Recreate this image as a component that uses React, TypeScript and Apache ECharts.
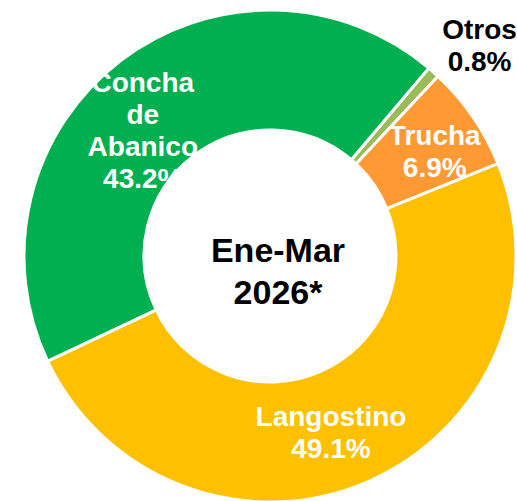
import React, { useEffect, useRef } from "react";
import * as echarts from "echarts";

const categories = ["Otros", "Trucha", "Langostino", "Concha de Abanico"];
const shares = [0.8, 6.9, 49.1, 43.2];
const colors = ["#9BBB59", "#FF9933", "#FFC000", "#00B050"];
const labelColors = ["#000000", "#FFFFFF", "#FFFFFF", "#FFFFFF"];
const centerLines = ["Ene-Mar", "2026*"];

// label nudges (layout only), indexed like categories
const labelNudge: [number, number][] = [
  [84, -69],
  [9, 3],
  [-15, 3],
  [-12, 24],
];

const FONT = '"Liberation Sans", Arial, Helvetica, sans-serif';

export default function App() {
  const ref = useRef<HTMLDivElement>(null);
  useEffect(() => {
    document.body.style.margin = "0";
    if (!ref.current) return;
    const chart = echarts.init(ref.current, undefined, { renderer: "svg" });
    chart.setOption({
      animation: false,
      backgroundColor: "#FFFFFF",
      series: [
        {
          type: "pie",
          center: [270, 256],
          radius: [126, 246],
          startAngle: 49.8,
          clockwise: true,
          avoidLabelOverlap: false,
          itemStyle: { borderColor: "#FFFFFF", borderWidth: 3 },
          label: {
            show: true,
            position: "inside",
            fontFamily: FONT,
            fontWeight: "bold",
            fontSize: 28,
            lineHeight: 32,
            align: "center",
            formatter: (p: any) =>
              String(p.name).split(" ").join("\n") + "\n" + Number(p.value).toFixed(1) + "%",
          },
          labelLine: { show: false },
          labelLayout: (p: any) => ({
            dx: labelNudge[p.dataIndex][0],
            dy: labelNudge[p.dataIndex][1],
          }),
          emphasis: { disabled: true },
          data: categories.map((c, i) => ({
            name: c,
            value: shares[i],
            itemStyle: { color: colors[i] },
            label: { color: labelColors[i] },
          })),
        },
      ],
      graphic: [
        {
          type: "text",
          x: 278,
          y: 271,
          style: {
            text: centerLines.join("\n"),
            fontFamily: FONT,
            fontWeight: "bold",
            fontSize: 34,
            lineHeight: 42,
            fill: "#000000",
            align: "center",
            verticalAlign: "middle",
          },
        },
      ],
    });
    return () => chart.dispose();
  }, []);
  return <div ref={ref} style={{ width: 517, height: 501 }} />;
}
